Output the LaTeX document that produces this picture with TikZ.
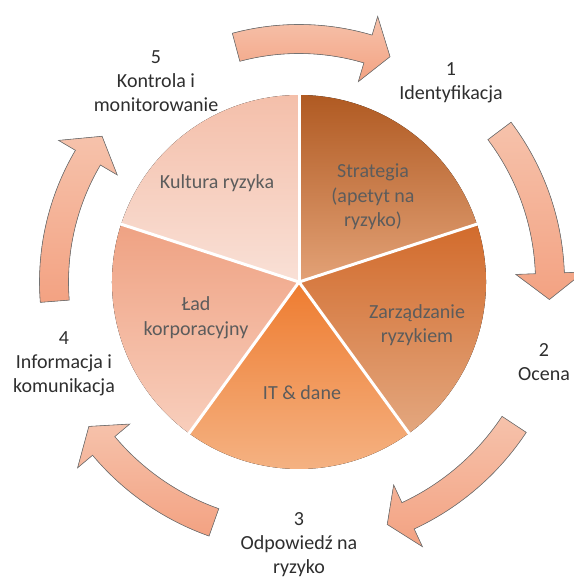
\documentclass[tikz,border=0pt]{standalone}
\usepackage{fontspec}
\setmainfont{Carlito}
\newlength{\du}
\setlength{\du}{1pt}
\definecolor{strattop}{HTML}{B05A22}
\definecolor{stratbot}{HTML}{E3A277}
\definecolor{zarztop}{HTML}{D26B2C}
\definecolor{zarzbot}{HTML}{E3A77F}
\definecolor{ittop}{HTML}{EE7C30}
\definecolor{itbot}{HTML}{F5B587}
\definecolor{ladtop}{HTML}{EFA283}
\definecolor{ladbot}{HTML}{F8CEBC}
\definecolor{kulttop}{HTML}{F4BFAA}
\definecolor{kultbot}{HTML}{F9E0D6}
\definecolor{arrtop}{HTML}{F6C2AB}
\definecolor{arrbot}{HTML}{F3A282}
\tikzset{
  ringarrow/.style={draw=black!55, line width=0.6\du, top color=arrtop, bottom color=arrbot},
  sepline/.style={draw=white, line width=3\du},
  outlabel/.style={inner sep=0pt, align=center, text=black!82, font=\fontsize{20}{24}\selectfont},
  inlabel/.style={inner sep=0pt, align=center, text=black!64, font=\fontsize{20}{24.5}\selectfont}
}
% tail angle, shaft end angle, tip angle, radius
\newcommand{\ringarrow}[4]{%
  \fill[ringarrow] (#1:{(#4+14.5)*\du}) arc[start angle=#1, end angle=#2, radius={(#4+14.5)*\du}]
    -- (#2:{(#4+34)*\du}) -- (#3:{#4*\du}) -- (#2:{(#4-34)*\du}) -- (#2:{(#4-14.5)*\du})
    arc[start angle=#2, end angle=#1, radius={(#4-14.5)*\du}] -- cycle;}
\begin{document}
\begin{tikzpicture}
\useasboundingbox (0\du,0\du) rectangle (573\du,578\du);
\begin{scope}[shift={(299\du,296\du)}]
% pie
\fill[top color=strattop, bottom color=stratbot] (0,0) -- (90:187\du) arc[start angle=90, end angle=18, radius=187\du] -- cycle;
\fill[top color=zarztop, bottom color=zarzbot] (0,0) -- (18:187\du) arc[start angle=18, end angle=-54, radius=187\du] -- cycle;
\fill[top color=ittop, bottom color=itbot] (0,0) -- (-54:187\du) arc[start angle=-54, end angle=-126, radius=187\du] -- cycle;
\fill[top color=ladtop, bottom color=ladbot] (0,0) -- (-126:187\du) arc[start angle=-126, end angle=-198, radius=187\du] -- cycle;
\fill[top color=kulttop, bottom color=kultbot] (0,0) -- (162:187\du) arc[start angle=162, end angle=90, radius=187\du] -- cycle;
\draw[sepline] (0,0) -- (90:188\du);
\draw[sepline] (0,0) -- (18:188\du);
\draw[sepline] (0,0) -- (-54:188\du);
\draw[sepline] (0,0) -- (-126:188\du);
\draw[sepline] (0,0) -- (162:188\du);
% arrows round the pie
\ringarrow{105}{73.5}{68}{243}
\ringarrow{37}{2}{-4}{251}
\ringarrow{-33.5}{-65}{-70}{258}
\ringarrow{250.5}{220}{214.5}{255}
\ringarrow{184.5}{149.5}{143.5}{245}
\end{scope}
% labels in the pie
\node[inlabel] (strategia) at (373\du,381\du) {Strategia\\(apetyt na\\ryzyko)};
\node[inlabel] (zarzadzanie) at (417\du,253\du) {Zarządzanie\\ryzykiem};
\node[inlabel] (itdane) at (302\du,185\du) {IT \& dane};
\node[inlabel] (lad) at (196\du,260\du) {Ład\\korporacyjny};
\node[inlabel] (kultura) at (217\du,395\du) {Kultura ryzyka};
% labels of the steps
\node[outlabel] (identyfikacja) at (451\du,495\du) {1\\Identyfikacja};
\node[outlabel] (ocena) at (544\du,216\du) {2\\Ocena};
\node[outlabel] (odpowiedz) at (299\du,33\du) {3\\Odpowiedź na\\ryzyko};
\node[outlabel] (informacja) at (64\du,214\du) {4\\Informacja i\\komunikacja};
\node[outlabel] (kontrola) at (156\du,497\du) {5\\Kontrola i\\monitorowanie};
\end{tikzpicture}
\end{document}
